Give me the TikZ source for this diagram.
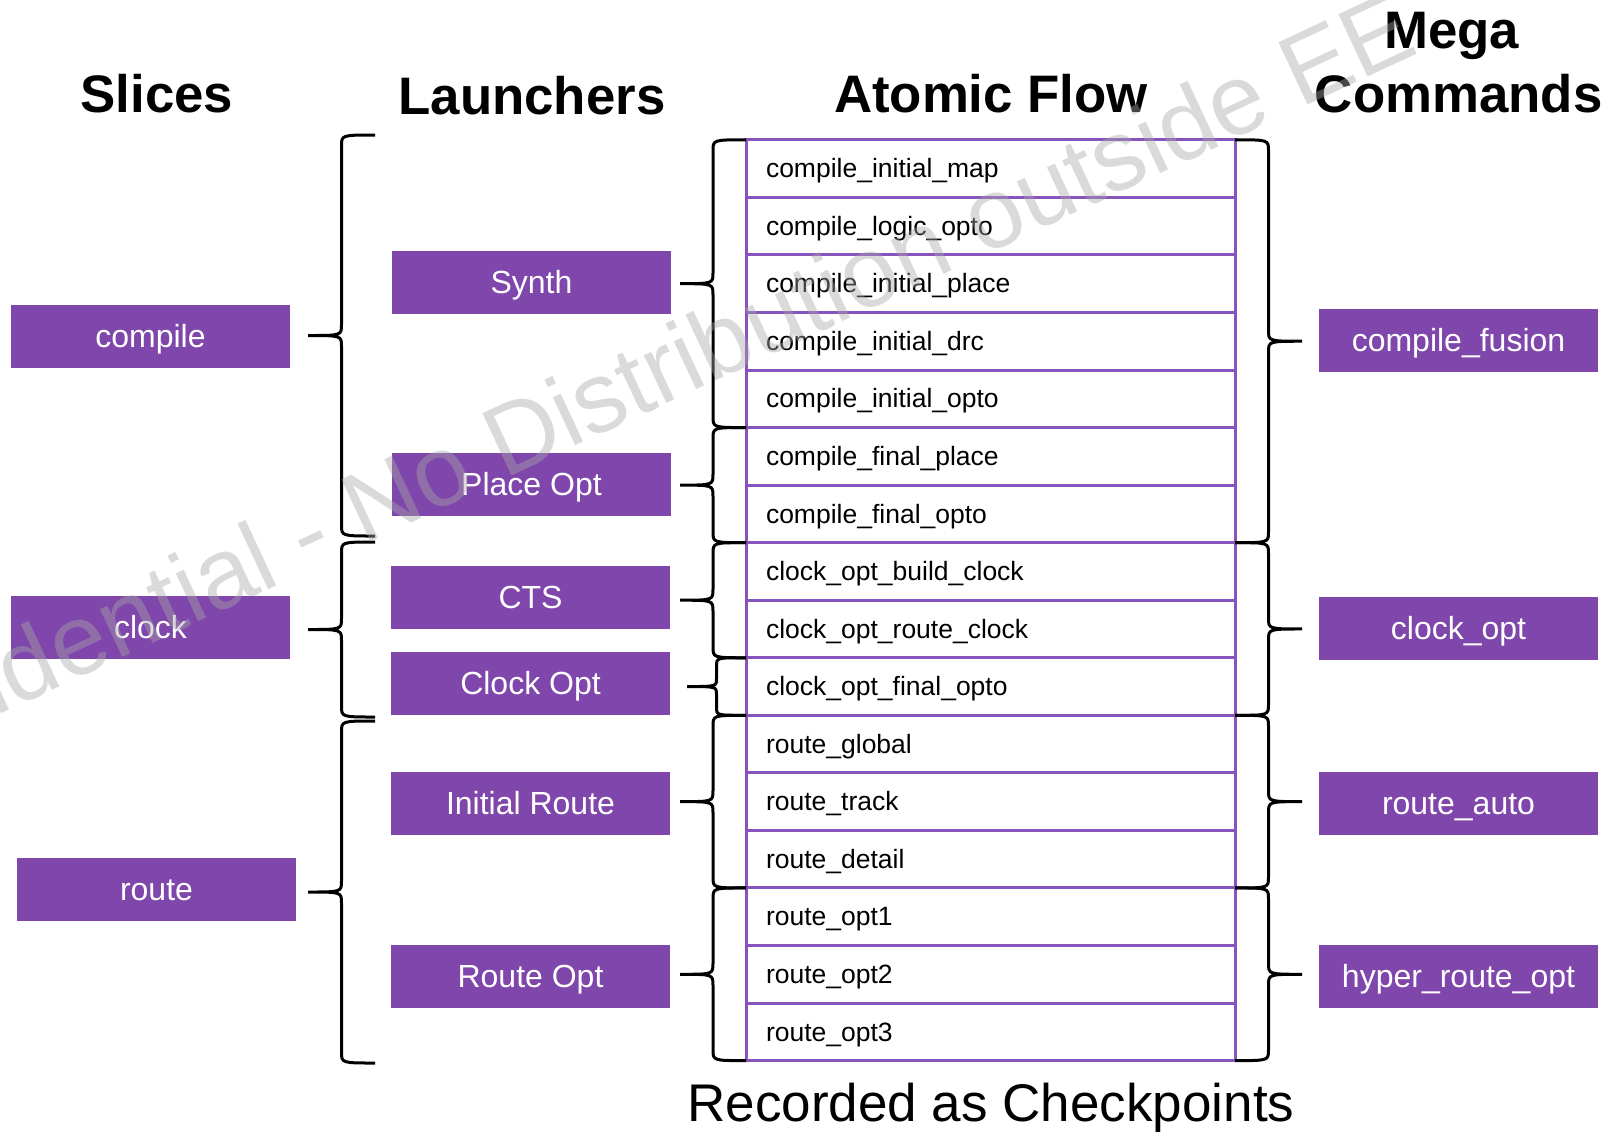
\documentclass[tikz,border=0pt]{standalone}
\usepackage{fontspec}
\setmainfont{Liberation Sans}
\usetikzlibrary{calc}

\definecolor{boxpurple}{HTML}{7F46AB}
\definecolor{rowpurple}{HTML}{8753BE}
\definecolor{markgray}{HTML}{A8A8A8}

% Curly brace from end point #1 (top) to end point #2 (bottom);
% #3 = signed depth (positive: tip to the left), #4 = corner radius.
\newcommand\flowbrace[4]{%
  \draw[bracestroke] let \p1=(#1), \p2=(#2) in
    (\x1,\y1)
    .. controls ({\x1-(#3)/2},\y1) .. ({\x1-(#3)/2},{\y1-(#4)})
    -- ({\x1-(#3)/2},{(\y1+\y2)/2+(#4)})
    .. controls ({\x1-(#3)/2},{(\y1+\y2)/2}) .. ({\x1-(#3)},{(\y1+\y2)/2})
    .. controls ({\x1-(#3)/2},{(\y1+\y2)/2}) .. ({\x1-(#3)/2},{(\y1+\y2)/2-(#4)})
    -- ({\x1-(#3)/2},{\y2+(#4)})
    .. controls ({\x1-(#3)/2},\y2) .. (\x1,\y2);
}

\begin{document}
\begin{tikzpicture}[x=0.5pt,y=-0.5pt,
  title/.style={font=\bfseries\fontsize{26.4}{32}\selectfont, anchor=base, inner sep=0pt},
  fillbox/.style={fill=boxpurple, text=white, minimum width=139.5pt, minimum height=31.5pt,
    inner sep=0pt, outer sep=0pt, font=\fontsize{16}{19}\selectfont,
    text height=14.48pt, text depth=3.39pt},
  rowcell/.style={draw=rowpurple, line width=1.5pt, outer sep=0pt, inner xsep=10pt,
    inner ysep=0pt, minimum height=28.78pt, text width=224.5pt, align=left,
    font=\fontsize{13.25}{15}\selectfont, text height=12pt, text depth=2.81pt},
  bracestroke/.style={draw=black, line width=1.5pt},
  wmark/.style={font=\fontsize{50}{60}\selectfont, text=markgray, text opacity=0.42, inner sep=0pt}
]
\useasboundingbox (0,0) rectangle (1624,1132);

% column headings
\node[title] (hslices) at (157,112.5) {Slices};
\node[title] (hlaunch) at (532,114) {Launchers};
\node[title] (hatomic) at (991,112.5) {Atomic Flow};
\node[title] (hmega) at (1451.5,48) {Mega};
\node[title] (hcmds) at (1458.7,112.5) {Commands};

% atomic flow steps
\foreach \t [count=\i] in {compile\_initial\_map, compile\_logic\_opto, compile\_initial\_place,
    compile\_initial\_drc, compile\_initial\_opto, compile\_final\_place, compile\_final\_opto,
    clock\_opt\_build\_clock, clock\_opt\_route\_clock, clock\_opt\_final\_opto,
    route\_global, route\_track, route\_detail, route\_opt1, route\_opt2, route\_opt3}
  \node[rowcell] (r\i) at (990.5,{139.8+(\i-0.5)*57.55}) {\t};

% slices
\node[fillbox] (compile) at (150.5,336.5) {compile};
\node[fillbox] (clock) at (150.5,627.5) {clock};
\node[fillbox] (route) at (156.5,889) {route};

% launchers
\node[fillbox] (synth) at (531.5,282.5) {Synth};
\node[fillbox] (placeopt) at (531.5,484.5) {Place Opt};
\node[fillbox] (cts) at (530.5,597.5) {CTS};
\node[fillbox] (clockopt) at (530.5,683.5) {Clock Opt};
\node[fillbox] (initroute) at (530.5,803) {Initial Route};
\node[fillbox] (routeopt) at (530.5,976.5) {Route Opt};

% mega commands
\node[fillbox] (cfusion) at (1458.5,340.5) {compile\_fusion};
\node[fillbox] (clkopt) at (1458.5,628.5) {clock\_opt};
\node[fillbox] (rauto) at (1458.5,803) {route\_auto};
\node[fillbox] (hyper) at (1458.5,976.5) {hyper\_route\_opt};

% slice braces
\coordinate (s1t) at (375,135);
\coordinate (s1b) at (375,536);
\coordinate (s2t) at (375,542);
\coordinate (s2b) at (375,717);
\coordinate (s3t) at (375,721);
\coordinate (s3b) at (375,1063);
\flowbrace{s1t}{s1b}{33.5pt}{5.5pt}
\flowbrace{s2t}{s2b}{33.5pt}{5.5pt}
\flowbrace{s3t}{s3b}{33.5pt}{5.5pt}

% launcher braces
\flowbrace{r1.north west}{r5.south west}{33pt}{5.5pt}
\flowbrace{r6.north west}{r7.south west}{33pt}{5.5pt}
\flowbrace{r8.north west}{r9.south west}{33pt}{5.5pt}
\flowbrace{r10.north west}{r10.south west}{29.5pt}{4pt}
\flowbrace{r11.north west}{r13.south west}{33pt}{5.5pt}
\flowbrace{r14.north west}{r16.south west}{33pt}{5.5pt}

% mega command braces
\flowbrace{r1.north east}{r7.south east}{-33.5pt}{5.5pt}
\flowbrace{r8.north east}{r10.south east}{-33.5pt}{5.5pt}
\flowbrace{r11.north east}{r13.south east}{-33.5pt}{5.5pt}
\flowbrace{r14.north east}{r16.south east}{-33.5pt}{5.5pt}

% caption
\node[anchor=base, inner sep=0pt, font=\fontsize{26.5}{32}\selectfont] (caption) at (991,1121) {Recorded as Checkpoints};

% watermark
\begin{scope}
  \clip (0,0) rectangle (1624,1132);
  \node[wmark, rotate=25, anchor=base west] (wm) at (-196,806) {Confidential - No Distribution outside EE};
\end{scope}
\end{tikzpicture}
\end{document}
